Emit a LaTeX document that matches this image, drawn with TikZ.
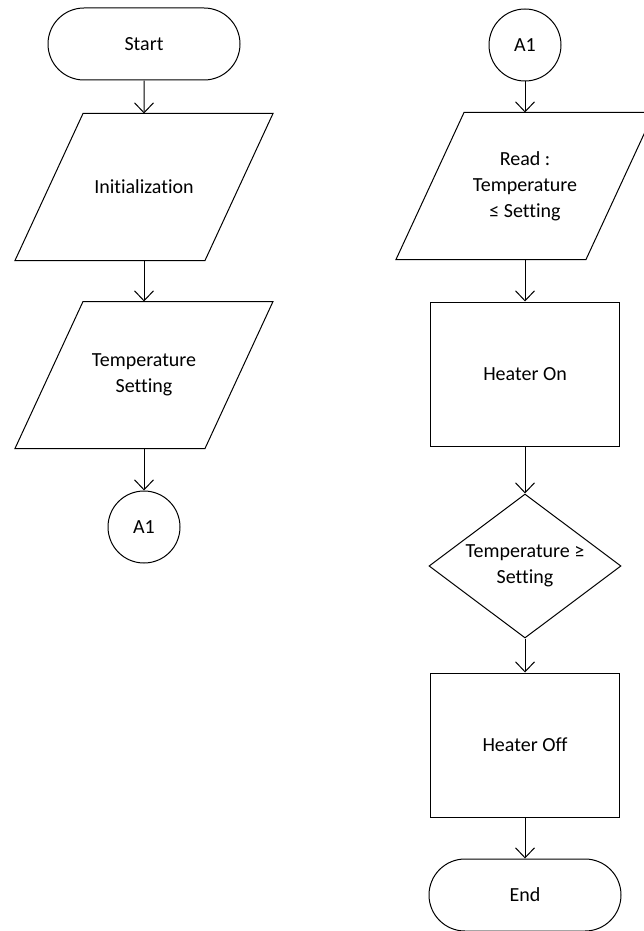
\documentclass[tikz,border=0pt]{standalone}
\usepackage{fontspec}
\setmainfont{Carlito}[Ligatures=NoCommon]
\usetikzlibrary{arrows.meta,shapes.geometric,shapes.misc}
\begin{document}
\begin{tikzpicture}[x=1pt,y=-1pt,
  line width=1pt,
  every node/.style={font=\fontsize{20}{26}\selectfont, align=center},
  term/.style={draw, rounded rectangle, minimum width=192pt, minimum height=72pt, inner sep=0pt},
  conn/.style={draw, circle, minimum size=72pt, inner sep=0pt},
  iobox/.style={rectangle, minimum width=190pt, minimum height=146pt, inner sep=0pt},
  procbox/.style={draw, rectangle, minimum width=189pt, minimum height=144pt, inner sep=0pt},
  decbox/.style={draw, diamond, minimum width=192pt, minimum height=144pt, inner sep=0pt, aspect=1.333},
  flow/.style={-{Straight Barb[length=10pt,width=19pt]}}
]
\useasboundingbox (0,0) rectangle (644,931);
\clip (0,0) rectangle (644,931);
% left column
\node[term] (start) at (144,44) {Start};
\node[iobox] (init) at (144,187) {Initialization};
\node[iobox] (tset) at (144,375) {Temperature\\Setting};
\node[conn] (a1l) at (144,527) {A1};
% right column
\node[conn] (a1r) at (525,45) {A1};
\node[iobox] (read) at (525,186) {Read :\\Temperature\\≤ Setting};
\node[procbox] (hon) at (525,374) {Heater On};
\node[decbox] (dec) at (525,566) {Temperature ≥\\Setting};
\node[procbox] (hoff) at (525,745) {Heater Off};
\node[term] (end) at (525,895) {End};
% parallelogram outlines
\foreach \n in {init,tset,read}{
  \draw ([xshift=-61pt]\n.north) -- ([xshift=129pt]\n.north)
    -- ([xshift=61pt]\n.south) -- ([xshift=-129pt]\n.south) -- cycle;
}
% connectors
\draw[flow] (start) -- (init);
\draw[flow] (init) -- (tset);
\draw[flow] (tset) -- (a1l);
\draw[flow] (a1r) -- (read);
\draw[flow] (read) -- (hon);
\draw[flow] (hon) -- (dec);
\draw[flow] (dec) -- (hoff);
\draw[flow] (hoff) -- (end);
\end{tikzpicture}
\end{document}
